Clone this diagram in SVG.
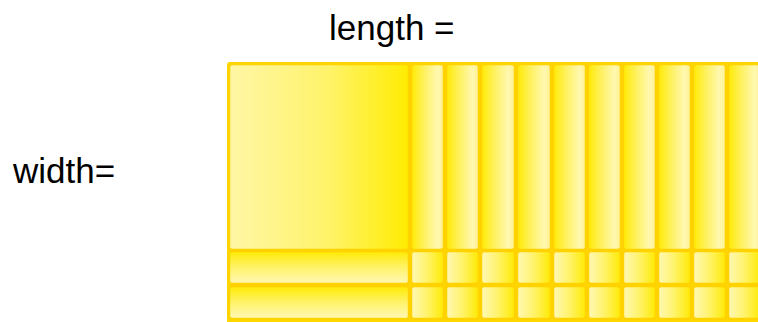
<svg xmlns="http://www.w3.org/2000/svg" width="758" height="322" viewBox="0 0 758 322">
<style>
.t{stroke:#FFD200;stroke-width:2.5}
.lbl{font-family:"Liberation Sans",Arial,sans-serif;font-size:35px;fill:#000}
</style>
<defs>
<linearGradient id="gBig" x1="0" y1="0" x2="1" y2="0">
<stop offset="0" stop-color="#FFF6A6"/><stop offset="0.55" stop-color="#FFF36A"/><stop offset="1" stop-color="#FFEC00"/>
</linearGradient>
<linearGradient id="gCol" x1="0" y1="0" x2="1" y2="0">
<stop offset="0" stop-color="#FFEA00"/><stop offset="0.45" stop-color="#FFF26A"/><stop offset="0.8" stop-color="#FFF8B0"/><stop offset="1" stop-color="#FFF190"/>
</linearGradient>
<linearGradient id="gStrip" x1="0" y1="0" x2="0" y2="1">
<stop offset="0" stop-color="#FFEA00"/><stop offset="0.5" stop-color="#FFF36A"/><stop offset="1" stop-color="#FFF8B8"/>
</linearGradient>
<linearGradient id="gSq" x1="0" y1="0" x2="1" y2="0">
<stop offset="0" stop-color="#FFF8B8"/><stop offset="0.5" stop-color="#FFF36A"/><stop offset="1" stop-color="#FFEA00"/>
</linearGradient>
</defs>
<rect width="758" height="322" fill="#fff"/>
<text class="lbl" x="329" y="40">length =</text>
<text class="lbl" x="13" y="183">width=</text>
<g id="grid">
<rect x="227" y="62" width="540" height="265" rx="3" fill="#FFD700"/>
<g id="big"><rect class="t" x="229" y="64" width="180" height="186" rx="3" fill="url(#gBig)"/></g>
<g id="strip1"><rect class="t" x="229" y="251" width="180" height="33" rx="3" fill="url(#gStrip)"/></g>
<g id="strip2"><rect class="t" x="229" y="286" width="180" height="33" rx="3" fill="url(#gStrip)"/></g>
<g id="cols" fill="url(#gCol)">
<rect class="t" x="411" y="64" width="33" height="186" rx="3"/>
<rect class="t" x="446" y="64" width="33" height="186" rx="3"/>
<rect class="t" x="481" y="64" width="34" height="186" rx="3"/>
<rect class="t" x="517" y="64" width="34" height="186" rx="3"/>
<rect class="t" x="553" y="64" width="33" height="186" rx="3"/>
<rect class="t" x="588" y="64" width="33" height="186" rx="3"/>
<rect class="t" x="623" y="64" width="33" height="186" rx="3"/>
<rect class="t" x="658" y="64" width="33" height="186" rx="3"/>
<rect class="t" x="693" y="64" width="33" height="186" rx="3"/>
<rect class="t" x="728" y="64" width="33" height="186" rx="3"/>
</g>
<g id="squares" fill="url(#gSq)">
<rect class="t" x="411" y="251" width="33" height="33" rx="3"/>
<rect class="t" x="446" y="251" width="33" height="33" rx="3"/>
<rect class="t" x="481" y="251" width="34" height="33" rx="3"/>
<rect class="t" x="517" y="251" width="34" height="33" rx="3"/>
<rect class="t" x="553" y="251" width="33" height="33" rx="3"/>
<rect class="t" x="588" y="251" width="33" height="33" rx="3"/>
<rect class="t" x="623" y="251" width="33" height="33" rx="3"/>
<rect class="t" x="658" y="251" width="33" height="33" rx="3"/>
<rect class="t" x="693" y="251" width="33" height="33" rx="3"/>
<rect class="t" x="728" y="251" width="33" height="33" rx="3"/>
<rect class="t" x="411" y="286" width="33" height="33" rx="3"/>
<rect class="t" x="446" y="286" width="33" height="33" rx="3"/>
<rect class="t" x="481" y="286" width="34" height="33" rx="3"/>
<rect class="t" x="517" y="286" width="34" height="33" rx="3"/>
<rect class="t" x="553" y="286" width="33" height="33" rx="3"/>
<rect class="t" x="588" y="286" width="33" height="33" rx="3"/>
<rect class="t" x="623" y="286" width="33" height="33" rx="3"/>
<rect class="t" x="658" y="286" width="33" height="33" rx="3"/>
<rect class="t" x="693" y="286" width="33" height="33" rx="3"/>
<rect class="t" x="728" y="286" width="33" height="33" rx="3"/>
</g>
</g>
</svg>
